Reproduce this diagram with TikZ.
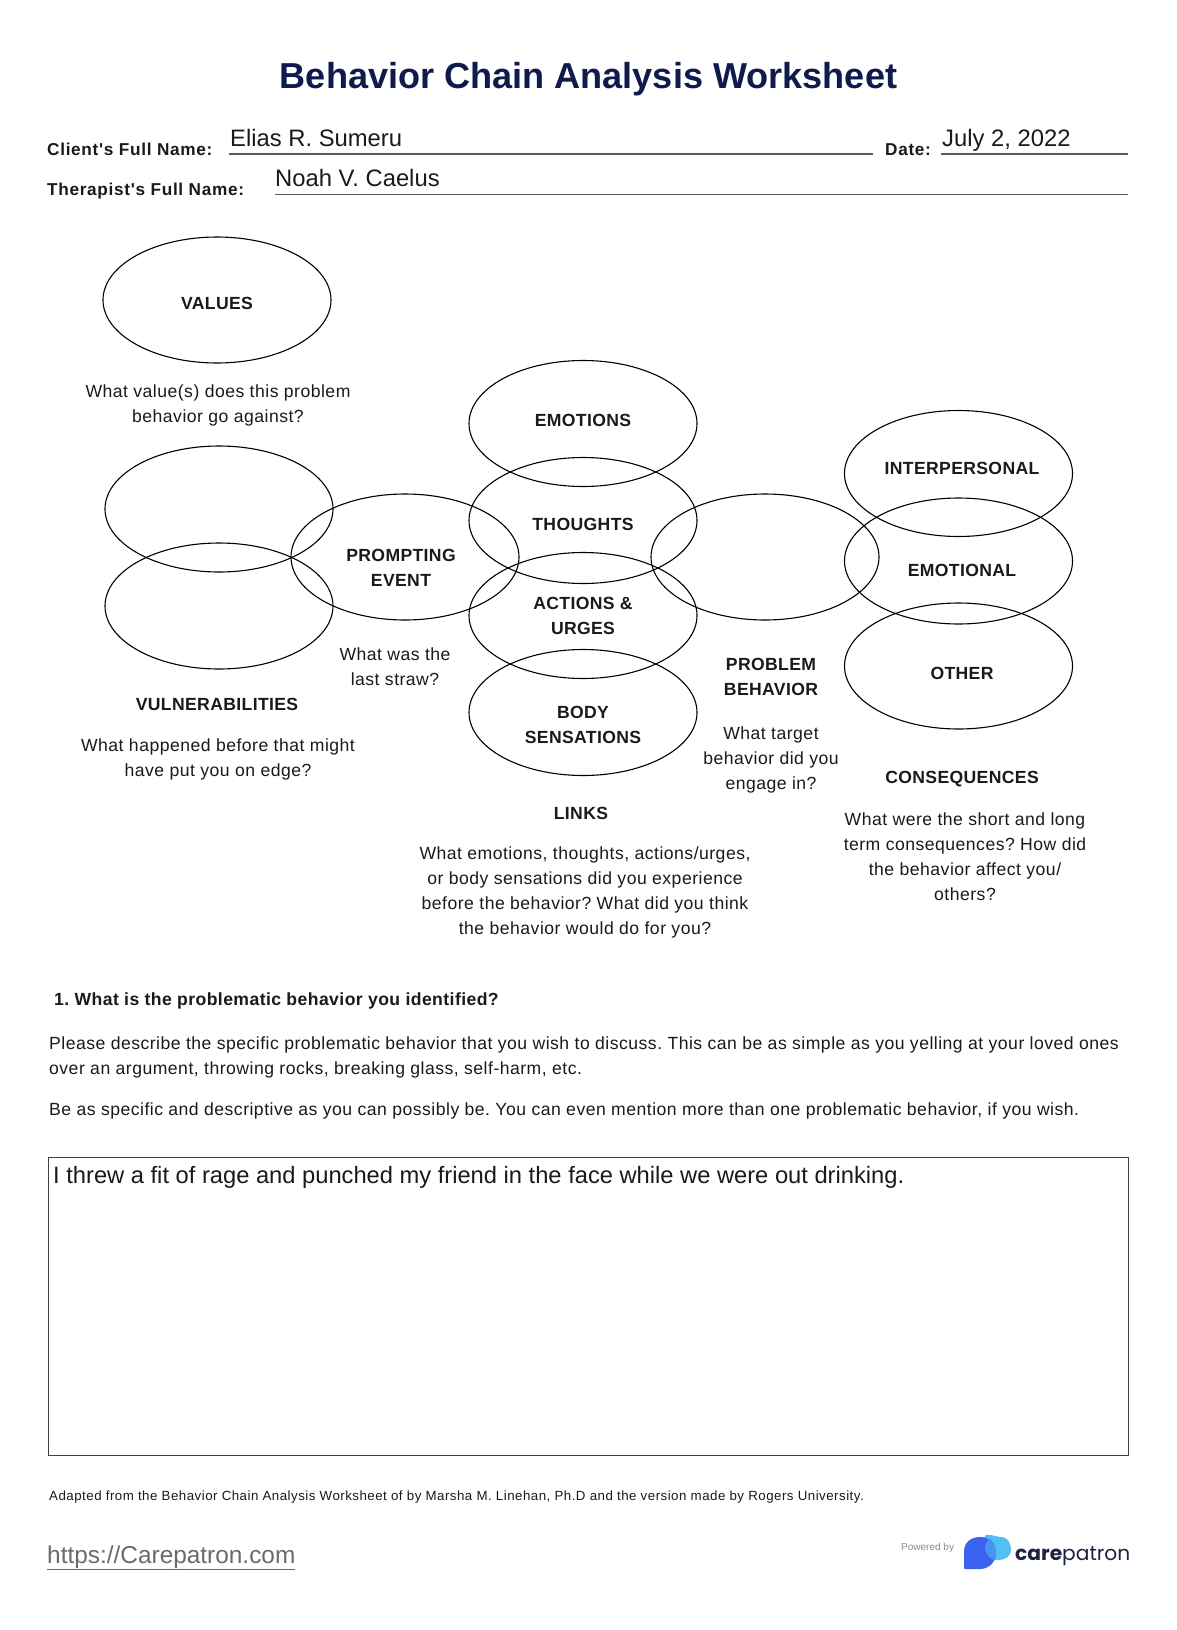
\documentclass[tikz,border=0pt]{standalone}
\usepackage{fontspec}
\setmainfont{Liberation Sans}
\newfontfamily\logofont{Poppins}
\newfontfamily\bodyfont[LetterSpace=2.75]{Liberation Sans}
\newfontfamily\labfont[LetterSpace=2.0]{Liberation Sans Bold}
\newfontfamily\fieldfont[LetterSpace=4.0]{Liberation Sans Bold}
\newfontfamily\secfont[LetterSpace=2.4]{Liberation Sans Bold}
\newfontfamily\smallfont[LetterSpace=3.65]{Liberation Sans}
\definecolor{titleblue}{HTML}{0F1B4C}
\definecolor{ink}{HTML}{1A1A1A}
\definecolor{linkgray}{HTML}{6B6B6B}
\definecolor{blueA}{HTML}{3B62F0}
\definecolor{blueB}{HTML}{52BFF5}
\definecolor{blueC}{HTML}{4A92F2}
\definecolor{logoink}{HTML}{1E2440}
\usetikzlibrary{shapes.geometric}
\tikzset{
  x=1pt,y=-1pt,
  oval/.style={ellipse,draw=black,line width=1.1pt,minimum width=228pt,minimum height=126pt,inner sep=0pt},
  lab/.style={font=\labfont\fontsize{17.6}{25}\selectfont,text=ink,align=center,inner sep=0pt},
  body/.style={font=\bodyfont\fontsize{17.6}{25}\selectfont,text=ink,align=center,inner sep=0pt},
  fieldlab/.style={font=\fieldfont\fontsize{17.2}{20}\selectfont,text=ink,anchor=base west,inner sep=0pt},
  fieldval/.style={font=\fontsize{23.8}{28}\selectfont,text=ink,anchor=base west,inner sep=0pt},
  rulel/.style={draw=black!65,line width=1.1pt},
  para/.style={font=\bodyfont\fontsize{17.6}{25}\selectfont,text=ink,anchor=base west,inner sep=0pt},
}
\begin{document}
\frenchspacing
\begin{tikzpicture}
\useasboundingbox (0,0) rectangle (1176,1630);
\fill[white] (0,0) rectangle (1176,1630);
\node[font=\bfseries\fontsize{36.1}{40}\selectfont,text=titleblue,inner sep=0pt,anchor=base] (title) at (588.5,88) {Behavior Chain Analysis Worksheet};
% header
\node[fieldlab] (clab) at (47,155) {Client's Full Name:};
\node[fieldval] (cval) at (230,146) {Elias R. Sumeru};
\coordinate (c1) at (229,154); \coordinate (c2) at (873,154);
\draw[rulel] (c1) -- (c2);
\node[fieldlab] (dlab) at (885,155) {Date:};
\node[fieldval] (dval) at (942,146) {July 2, 2022};
\coordinate (d1) at (941,154); \coordinate (d2) at (1128,154);
\draw[rulel] (d1) -- (d2);
\node[fieldlab] (tlab) at (47,195.5) {Therapist's Full Name:};
\node[fieldval] (tval) at (275,186) {Noah V. Caelus};
\coordinate (t1) at (275,194.5); \coordinate (t2) at (1128,194.5);
\draw[rulel] (t1) -- (t2);
% ovals
\node[oval] (values) at (217,300) {};
\node[oval] (vulnA) at (219,509) {};
\node[oval] (vulnB) at (219,606) {};
\node[oval] (prompt) at (405,557) {};
\node[oval] (emotions) at (583,423.5) {};
\node[oval] (thoughts) at (583,520.5) {};
\node[oval] (actions) at (583,615.5) {};
\node[oval] (bodysens) at (583,712.5) {};
\node[oval] (problem) at (765,557) {};
\node[oval] (interp) at (958.5,473.5) {};
\node[oval] (emotional) at (958.5,561) {};
\node[oval] (other) at (958.5,666) {};
% oval labels
\node[lab] (tvalues) at (217,303.5) {VALUES};
\node[lab] (tprompt) at (401,568) {PROMPTING\\EVENT};
\node[lab] (temotions) at (583,420) {EMOTIONS};
\node[lab] (tthoughts) at (583,524) {THOUGHTS};
\node[lab] (tactions) at (583,616) {ACTIONS \&\\URGES};
\node[lab] (tbody) at (583,725) {BODY\\SENSATIONS};
\node[lab] (tinterp) at (962,468) {INTERPERSONAL};
\node[lab] (temotional) at (962,570.5) {EMOTIONAL};
\node[lab] (tother) at (962,673) {OTHER};
% captions
\node[body] (q1) at (218,405) {What value(s) does this problem\\behavior go against?};
\node[lab] (vuln) at (217,704) {VULNERABILITIES};
\node[body] (q2) at (218,759) {What happened before that might\\have put you on edge?};
\node[body] (q3) at (395,667) {What was the\\last straw?};
\node[lab] (probl) at (771,677) {PROBLEM\\BEHAVIOR};
\node[body] (q4) at (771,760) {What target\\behavior did you\\engage in?};
\node[lab] (links) at (581,813) {LINKS};
\node[body] (q5) at (585,892.5) {What emotions, thoughts, actions/urges,\\or body sensations did you experience\\before the behavior? What did you think\\the behavior would do for you?};
\node[lab] (cons) at (962,779) {CONSEQUENCES};
\node[body] (q6) at (965,857) {What were the short and long\\term consequences? How did\\the behavior affect you/\\others?};
% section
\node[fieldlab,font=\secfont\fontsize{17.6}{20}\selectfont] (sec) at (54,1005) {1. What is the problematic behavior you identified?};
\node[para] (p1) at (49,1049.5) {Please describe the specific problematic behavior that you wish to discuss. This can be as simple as you yelling at your loved ones};
\node[para] (p2) at (49,1074.5) {over an argument, throwing rocks, breaking glass, self-harm, etc.};
\node[para] (p3) at (49,1115) {Be as specific and descriptive as you can possibly be. You can even mention more than one problematic behavior, if you wish.};
% answer box
\node[draw=black!75,line width=1pt,minimum width=1079.5pt,minimum height=298pt,inner sep=0pt,anchor=north west] (box) at (48,1156.5) {};
\node[fieldval,font=\fontsize{23.7}{28}\selectfont] (ans) at (53,1183) {I threw a fit of rage and punched my friend in the face while we were out drinking.};
% footer
\node[font=\smallfont\fontsize{13.3}{16}\selectfont,text=ink,anchor=base west,inner sep=0pt] (adapt) at (49,1500) {Adapted from the Behavior Chain Analysis Worksheet of by Marsha M. Linehan, Ph.D and the version made by Rogers University.};
\node[font=\fontsize{24.4}{28}\selectfont,text=linkgray,anchor=base west,inner sep=0pt] (url) at (47,1563) {\underline{https://Carepatron.com}};
\node[font=\fontsize{10}{12}\selectfont,text=black!45,anchor=base west,inner sep=0pt] (pow) at (901,1550) {Powered by};
% logo
\fill[blueB] (984,1538) .. controls (984,1532) and (994,1536) .. (1000,1537) .. controls (1006,1536) and (1011,1542) .. (1011,1549) .. controls (1011,1557) and (1005,1560) .. (998,1560) -- (984,1560) -- cycle;
\fill[blueA] (965,1569) .. controls (964,1569) and (964,1568) .. (964,1567) -- (964,1552) .. controls (964,1542) and (971,1537) .. (980,1537) .. controls (990,1537) and (996,1544) .. (996,1553) .. controls (996,1562) and (989,1569) .. (980,1569) -- cycle;
\fill[blueC] (990,1538.5) .. controls (995,1543) and (996,1548) .. (996,1553) .. controls (996,1556) and (995,1558) .. (994,1560) .. controls (989,1558) and (985,1553) .. (985,1548) .. controls (985,1544) and (987,1541) .. (990,1538.5) -- cycle;
\node[font=\logofont\fontsize{20.2}{24}\selectfont,text=logoink,anchor=base west,inner sep=0pt] (logo) at (1015,1560) {\textbf{care}patron};
\end{tikzpicture}
\end{document}
